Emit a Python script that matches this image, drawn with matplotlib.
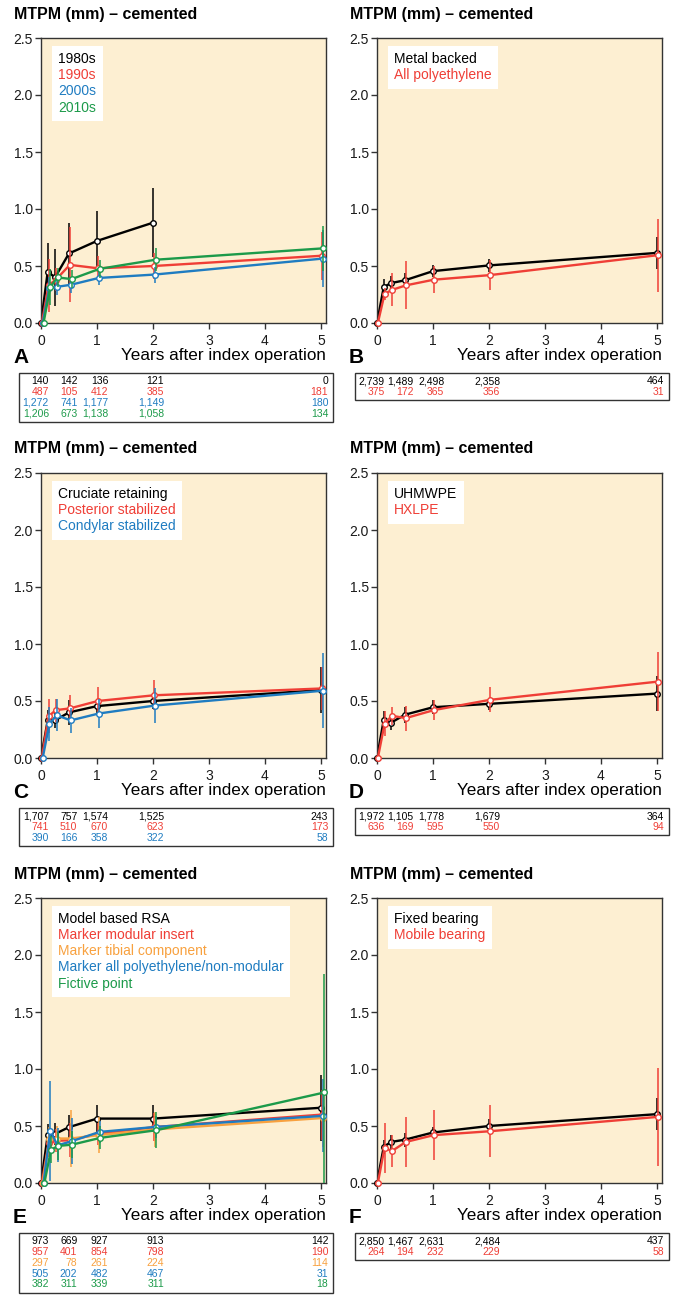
"""
MTPM (mm) of cemented tibial components over 5 years, six subgroup panels (A-F)
with the number of knees per follow-up listed below each panel.
"""

import numpy as np
import matplotlib
matplotlib.use('Agg')
import matplotlib.pyplot as plt
from matplotlib.lines import Line2D
from matplotlib.patches import Rectangle
from matplotlib.transforms import blended_transform_factory

plt.rcParams['font.family'] = ['Liberation Sans', 'DejaVu Sans']

# ── Data ─────────────────────────────────────────────────────
TIMES = [0, 0.12, 0.25, 0.5, 1, 2, 5]          # years after index operation
NAN = np.nan

# A — decade of operation
A_LABELS = ["1980s", "1990s", "2000s", "2010s"]
A_MEAN = [[0, 0.45, 0.40, 0.61, 0.72, 0.88, NAN],
          [0, 0.33, 0.38, 0.51, 0.48, 0.50, 0.59],
          [0, 0.305, 0.317, 0.335, 0.395, 0.425, 0.565],
          [0, 0.315, 0.40, 0.385, 0.475, 0.555, 0.655]]
A_ERR = [[0, 0.25, 0.25, 0.27, 0.26, 0.30, NAN],
         [0, 0.23, 0.10, 0.33, 0.11, 0.11, 0.21],
         [0, 0.10, 0.07, 0.07, 0.06, 0.07, 0.25],
         [0, 0.16, 0.08, 0.08, 0.08, 0.10, 0.20]]
A_N = [[140, 142, 136, 121, 0],
       [487, 105, 412, 385, 181],
       [1272, 741, 1177, 1149, 180],
       [1206, 673, 1138, 1058, 134]]

# B — tibial component design
B_LABELS = ["Metal backed", "All polyethylene"]
B_MEAN = [[0, 0.315, 0.35, 0.375, 0.455, 0.505, 0.615],
          [0, 0.255, 0.29, 0.33, 0.38, 0.42, 0.595]]
B_ERR = [[0, 0.07, 0.06, 0.06, 0.05, 0.06, 0.14],
         [0, 0.05, 0.145, 0.21, 0.12, 0.13, 0.32]]
B_N = [[2739, 1489, 2498, 2358, 464],
       [375, 172, 365, 356, 31]]

# C — constraint
C_LABELS = ["Cruciate retaining", "Posterior stabilized", "Condylar stabilized"]
C_MEAN = [[0, 0.33, 0.33, 0.40, 0.455, 0.50, 0.595],
          [0, 0.365, 0.42, 0.435, 0.50, 0.55, 0.61],
          [0, 0.30, 0.375, 0.33, 0.39, 0.46, 0.59]]
C_ERR = [[0, 0.09, 0.07, 0.11, 0.06, 0.07, 0.20],
         [0, 0.15, 0.10, 0.12, 0.12, 0.13, 0.19],
         [0, 0.15, 0.14, 0.11, 0.13, 0.155, 0.33]]
C_N = [[1707, 757, 1574, 1525, 243],
       [741, 510, 670, 623, 173],
       [390, 166, 358, 322, 58]]

# D — polyethylene
D_LABELS = ["UHMWPE", "HXLPE"]
D_MEAN = [[0, 0.335, 0.31, 0.38, 0.445, 0.475, 0.565],
          [0, 0.30, 0.37, 0.35, 0.42, 0.51, 0.67]]
D_ERR = [[0, 0.08, 0.06, 0.07, 0.06, 0.05, 0.15],
         [0, 0.11, 0.08, 0.11, 0.09, 0.11, 0.26]]
D_N = [[1972, 1105, 1778, 1679, 364],
       [636, 169, 595, 550, 94]]

# E — RSA method
E_LABELS = ["Model based RSA", "Marker modular insert", "Marker tibial component",
            "Marker all polyethylene/non-modular", "Fictive point"]
E_MEAN = [[0, 0.42, 0.43, 0.49, 0.565, 0.565, 0.66],
          [0, 0.35, 0.37, 0.375, 0.43, 0.49, 0.60],
          [0, 0.39, 0.39, 0.39, 0.42, 0.47, 0.57],
          [0, 0.457, 0.33, 0.366, 0.448, 0.492, 0.589],
          [0, 0.293, 0.325, 0.337, 0.396, 0.463, 0.794]]
E_ERR = [[0, 0.10, 0.10, 0.11, 0.12, 0.12, 0.29],
         [0, 0.12, 0.10, 0.15, 0.10, 0.12, 0.22],
         [0, 0.10, 0.11, 0.25, 0.16, 0.15, 0.25],
         [0, 0.44, 0.15, 0.20, 0.10, 0.10, 0.32],
         [0, 0.12, 0.12, 0.12, 0.10, 0.16, 1.04]]
E_N = [[973, 669, 927, 913, 142],
       [957, 401, 854, 798, 190],
       [297, 78, 261, 224, 114],
       [505, 202, 482, 467, 31],
       [382, 311, 339, 311, 18]]

# F — bearing
F_LABELS = ["Fixed bearing", "Mobile bearing"]
F_MEAN = [[0, 0.317, 0.36, 0.38, 0.443, 0.50, 0.604],
          [0, 0.31, 0.28, 0.36, 0.42, 0.454, 0.58]]
F_ERR = [[0, 0.06, 0.06, 0.06, 0.05, 0.06, 0.14],
         [0, 0.22, 0.14, 0.22, 0.22, 0.23, 0.43]]
F_N = [[2850, 1467, 2631, 2484, 437],
       [264, 194, 232, 229, 58]]

# ── Style / layout ───────────────────────────────────────────
BLACK, RED, BLUE, GREEN, ORANGE = '#000000', '#ef3e36', '#1f7cc1', '#1c9a4a', '#f8a13f'
BG = '#fdefd2'
SPINE = '#333333'

W, H = 673, 1295                 # figure size in pixels (dpi 100)
COLS = [(41, 326), (377, 662)]   # axes left/right (px)
ROWS = [38, 473, 898]            # axes top (px)
AX_H = 285
XMAX = 5.09
DODGE = 0.015                    # small horizontal shift between series
COUNT_X = [0.14, 0.65, 1.2, 2.2, 5.13]   # right edge of count columns (data x)
ROW_STEP = 10.7


def fig_rect(x0, y0, x1, y1):
    return [x0 / W, 1 - y1 / H, (x1 - x0) / W, (y1 - y0) / H]


def draw_panel(fig, x0, x1, top, letter, labels, colors, means, errs, counts):
    bottom = top + AX_H
    ax = fig.add_axes(fig_rect(x0, top, x1, bottom))
    ax.set_facecolor(BG)

    for i, (c, m, e) in enumerate(zip(colors, means, errs)):
        x = np.array(TIMES, dtype=float) + DODGE * i
        m = np.array(m, dtype=float)
        e = np.array(e, dtype=float)
        ok = ~np.isnan(m)
        ax.errorbar(x[ok], m[ok], yerr=e[ok], color=c, lw=1.7,
                    elinewidth=1.1, capsize=0, zorder=2 + i)
        ax.plot(x[ok], m[ok], linestyle='none', marker='o', ms=4,
                mfc='white', mec=c, mew=1.0, zorder=3 + i, clip_on=False)

    ax.set_xlim(0, XMAX)
    ax.set_ylim(0, 2.5)
    ax.set_xticks(range(6))
    ax.set_yticks(np.arange(0, 2.51, 0.5))
    ax.set_yticklabels([f"{v:.1f}" for v in np.arange(0, 2.51, 0.5)])
    ax.tick_params(direction='out', length=4, width=1, color=SPINE,
                   labelsize=10, labelcolor='#1a1a1a')
    ax.tick_params(axis='x', pad=4)
    ax.tick_params(axis='y', pad=2)
    for sp in ax.spines.values():
        sp.set_color(SPINE)
        sp.set_linewidth(1.0)

    # legend: coloured text only, white box
    handles = [Line2D([], [], linestyle='none') for _ in labels]
    leg = ax.legend(handles, labels, loc='upper left',
                    bbox_to_anchor=(11 / (x1 - x0), 1 - 8 / AX_H),
                    borderaxespad=0, handlelength=0, handletextpad=0,
                    borderpad=0.45, labelspacing=0.15, fontsize=10,
                    frameon=True, fancybox=False, framealpha=1,
                    edgecolor='none', facecolor='white')
    for t, c in zip(leg.get_texts(), colors):
        t.set_color(c)

    # titles and labels
    fig.text((x0 - 27) / W, 1 - (top - 24) / H, "MTPM (mm) – cemented",
             fontsize=11.5, fontweight='bold', ha='left', va='center')
    fig.text((x0 - 28) / W, 1 - (bottom + 40) / H, letter,
             fontsize=15, fontweight='bold', ha='left', va='baseline')
    fig.text(x1 / W, 1 - (bottom + 37) / H, "Years after index operation",
             fontsize=12.3, ha='right', va='baseline')

    # table of numbers
    tab_top = bottom + 50
    tab_h = len(counts) * ROW_STEP + 6
    fig.add_artist(Rectangle(((x0 - 22) / W, 1 - (tab_top + tab_h) / H),
                             (x1 - x0 + 29) / W, tab_h / H,
                             transform=fig.transFigure, fill=False,
                             lw=1.0, ec=SPINE))
    trans = blended_transform_factory(ax.transData, fig.transFigure)
    for r, (row, c) in enumerate(zip(counts, colors)):
        ypx = tab_top + 8.5 + ROW_STEP * r
        for xc, n in zip(COUNT_X, row):
            fig.text(xc, 1 - ypx / H, f"{n:,}", transform=trans,
                     ha='right', va='center', color=c, fontsize=7.5)
    return ax


def main():
    fig = plt.figure(figsize=(W / 100, H / 100), dpi=100)

    panels = [
        ("A", A_LABELS, [BLACK, RED, BLUE, GREEN], A_MEAN, A_ERR, A_N),
        ("B", B_LABELS, [BLACK, RED], B_MEAN, B_ERR, B_N),
        ("C", C_LABELS, [BLACK, RED, BLUE], C_MEAN, C_ERR, C_N),
        ("D", D_LABELS, [BLACK, RED], D_MEAN, D_ERR, D_N),
        ("E", E_LABELS, [BLACK, RED, ORANGE, BLUE, GREEN], E_MEAN, E_ERR, E_N),
        ("F", F_LABELS, [BLACK, RED], F_MEAN, F_ERR, F_N),
    ]
    for k, (letter, labels, colors, means, errs, counts) in enumerate(panels):
        x0, x1 = COLS[k % 2]
        top = ROWS[k // 2]
        draw_panel(fig, x0, x1, top, letter, labels, colors, means, errs, counts)

    fig.savefig('out.png', dpi=100)


if __name__ == "__main__":
    main()
